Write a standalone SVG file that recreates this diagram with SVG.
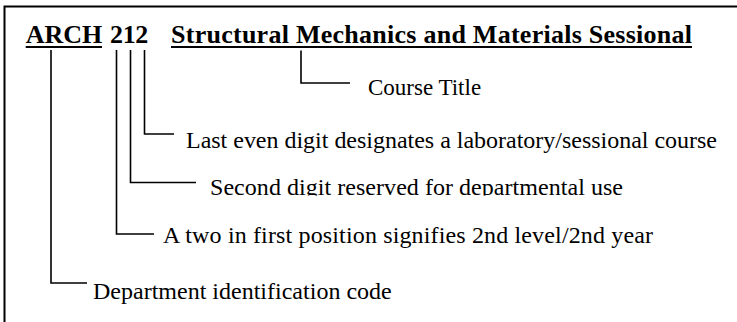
<svg xmlns="http://www.w3.org/2000/svg" width="737" height="322" viewBox="0 0 737 322">
<style>
.c{fill:none;stroke:#000;stroke-width:1.6}
.u{stroke:#000;stroke-width:2}
</style>
<defs>
<clipPath id="clipSecond"><rect x="200" y="160" width="450" height="35.5"/></clipPath>
</defs>
<rect width="737" height="322" fill="#fff"/>
<g id="frame">
<path d="M4.5,322 V6.5 H737" fill="none" stroke="#000" stroke-width="2"/>
</g>
<g id="code">
<text id="arch" x="25.7" y="42.7" font-family="Liberation Serif" font-size="26" font-weight="bold" textLength="76.5">ARCH</text>
<line class="u" x1="25.7" y1="47" x2="102" y2="47"/>
<text id="num" x="110" y="42.7" font-family="Liberation Serif" font-size="26" font-weight="bold" textLength="38.3">212</text>
<text id="title" x="171" y="42.7" font-family="Liberation Serif" font-size="26" font-weight="bold" textLength="521">Structural Mechanics and Materials Sessional</text>
<line class="u" x1="171" y1="47" x2="692" y2="47"/>
</g>
<g id="connectors">
<path class="c" d="M51,50 V283 H87"/>
<path class="c" d="M116.5,50 V234 H154"/>
<path class="c" d="M130.5,50 V182.5 H196"/>
<path class="c" d="M144.5,50 V134 H174"/>
<path class="c" d="M301,50.5 V83 H350"/>
</g>
<g id="label-course">
<text x="368" y="95" font-family="Liberation Serif" font-size="23">Course Title</text>
</g>
<g id="label-last">
<text x="186" y="147.7" font-family="Liberation Serif" font-size="24" textLength="531">Last even digit designates a laboratory/sessional course</text>
</g>
<g id="label-second">
<text x="210" y="194.5" font-family="Liberation Serif" font-size="24" textLength="413" clip-path="url(#clipSecond)">Second digit reserved for departmental use</text>
</g>
<g id="label-first">
<text x="163" y="243" font-family="Liberation Serif" font-size="24" textLength="490">A two in first position signifies 2nd level/2nd year</text>
</g>
<g id="label-dept">
<text x="93" y="298.5" font-family="Liberation Serif" font-size="24" textLength="298.7">Department identification code</text>
</g>
</svg>
